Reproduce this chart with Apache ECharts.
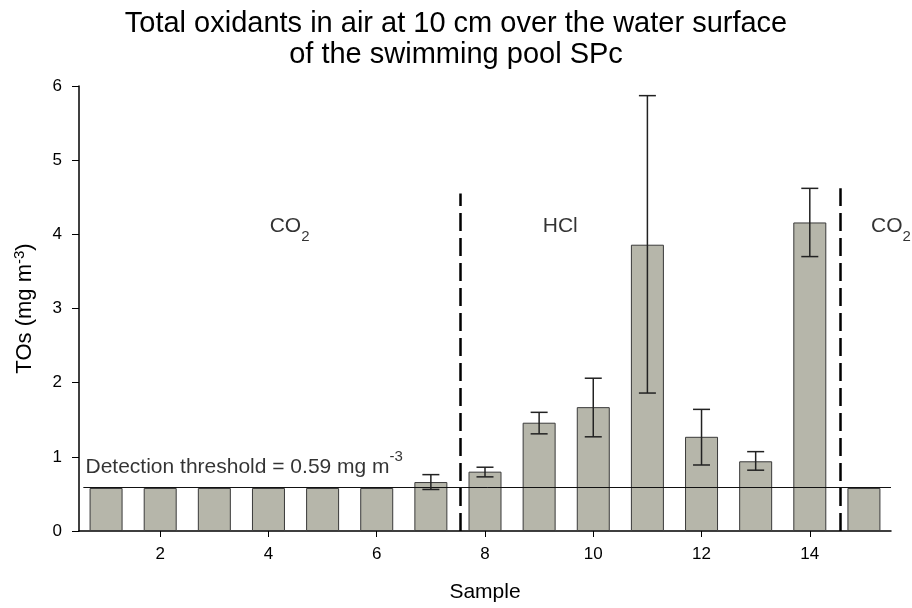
<!DOCTYPE html>
<html><head><meta charset="utf-8">
<script src="https://cdn.jsdelivr.net/npm/echarts@6/dist/echarts.min.js"></script>
<style>html,body{margin:0;padding:0;background:#fff}#c{width:912px;height:608px}</style>
</head><body><div id="c"></div>
<script>
var samples = [1,2,3,4,5,6,7,8,9,10,11,12,13,14,15];
var means   = [0.58,0.58,0.58,0.58,0.58,0.58,0.66,0.80,1.46,1.67,3.86,1.27,0.94,4.16,0.58];
var errLow  = [null,null,null,null,null,null,0.56,0.73,1.31,1.27,1.86,0.89,0.82,3.70,null];
var errHigh = [null,null,null,null,null,null,0.76,0.86,1.60,2.06,5.87,1.64,1.07,4.62,null];
var xTicks = [2,4,6,8,10,12,14];
var threshold = 0.59;
var dividers = [[7.55,4.55],[14.57,4.62]];
var annotations = [
  {x:4.39, y:4.06, text:'{t|CO}{s|2}', align:'center'},
  {x:9.39, y:4.06, text:'{t|HCl}', align:'center'},
  {x:15.5, y:4.06, text:'{t|CO}{s|2}', align:'center'},
  {x:0.62, y:0.91, text:'{n|Detection threshold = 0.59 mg m}{u|-3}', align:'left'}
];

var FONT = '"Liberation Sans", Arial, sans-serif';
var chart = echarts.init(document.getElementById('c'));
var barData = samples.map(function(s,i){return [s, means[i]];});
var errData = [];
samples.forEach(function(s,i){ if(errLow[i]!=null) errData.push([s, errLow[i], errHigh[i]]); });

var rich = {
  t:{fontFamily:FONT, fontSize:21, color:'#000', verticalAlign:'top', lineHeight:28},
  s:{fontFamily:FONT, fontSize:15, color:'#000', verticalAlign:'bottom', lineHeight:28},
  n:{fontFamily:FONT, fontSize:21, color:'#000', verticalAlign:'bottom', lineHeight:28},
  u:{fontFamily:FONT, fontSize:15, color:'#000', verticalAlign:'top', lineHeight:28}
};

chart.setOption({
  animation:false,
  title:{
    text:'Total oxidants in air at 10 cm over the water surface\nof the swimming pool SPc',
    left:'center', top:3,
    textStyle:{fontFamily:FONT, fontSize:29, fontWeight:'normal', color:'#000', lineHeight:31}
  },
  grid:{left:79, right:21, top:86, bottom:73},
  xAxis:{
    type:'value', min:0.5, max:15.5,
    name:'Sample', nameLocation:'middle', nameGap:51,
    nameTextStyle:{fontFamily:FONT, fontSize:21, color:'#000'},
    axisLine:{show:true, onZero:false, lineStyle:{color:'#000', width:1.5}},
    axisTick:{show:true, length:6, customValues:xTicks, lineStyle:{color:'#000'}},
    axisLabel:{customValues:xTicks, fontFamily:FONT, fontSize:17, color:'#000', margin:15},
    splitLine:{show:false}
  },
  yAxis:{
    type:'value', min:0, max:6, interval:1,
    name:'TOs (mg m{u|-3})', nameLocation:'middle', nameGap:42, nameRotate:90,
    nameTextStyle:{fontFamily:FONT, fontSize:22, color:'#000',
      rich:{u:{fontFamily:FONT,fontSize:15,color:'#000',verticalAlign:'top',padding:[0,0,10,0]}}},
    axisLine:{show:true, lineStyle:{color:'#000', width:1.5}},
    axisTick:{show:true, length:7, lineStyle:{color:'#000'}},
    axisLabel:{fontFamily:FONT, fontSize:17, color:'#000', margin:17},
    splitLine:{show:false}
  },
  series:[
    {
      type:'bar', data:barData, barWidth:33, z:2,
      itemStyle:{color:'#b6b6aa', borderColor:'#3a3a3a', borderWidth:1}
    },
    {
      type:'line', data:[], z:4, symbol:'none',
      markLine:{
        silent:true, symbol:['none','none'], label:{show:false},
        data:[
          [{coord:[0.58,threshold], lineStyle:{color:'#111', width:1, type:'solid'}},{coord:[15.5,threshold]}],
          [{coord:[dividers[0][0],0], lineStyle:{color:'#000', width:2.5, type:[18,7]}},{coord:[dividers[0][0],dividers[0][1]]}],
          [{coord:[dividers[1][0],0], lineStyle:{color:'#000', width:2.5, type:[18,7]}},{coord:[dividers[1][0],dividers[1][1]]}]
        ]
      }
    },
    {
      type:'custom', data:errData, z:5,
      renderItem:function(params, api){
        var x = api.value(0);
        var lo = api.coord([x, api.value(1)]);
        var hi = api.coord([x, api.value(2)]);
        var hw = 8.5;
        var st = {stroke:'#222', lineWidth:1.5};
        return {type:'group', children:[
          {type:'line', shape:{x1:lo[0],y1:lo[1],x2:hi[0],y2:hi[1]}, style:st},
          {type:'line', shape:{x1:lo[0]-hw,y1:lo[1],x2:lo[0]+hw,y2:lo[1]}, style:st},
          {type:'line', shape:{x1:hi[0]-hw,y1:hi[1],x2:hi[0]+hw,y2:hi[1]}, style:st}
        ]};
      }
    },
    {
      type:'scatter', symbolSize:0, z:6, silent:true,
      data:annotations.map(function(a){return {value:[a.x,a.y], label:{formatter:a.text, align:a.align}};}),
      label:{show:true, position:'inside', color:'#000', rich:rich}
    }
  ]
});
</script></body></html>
